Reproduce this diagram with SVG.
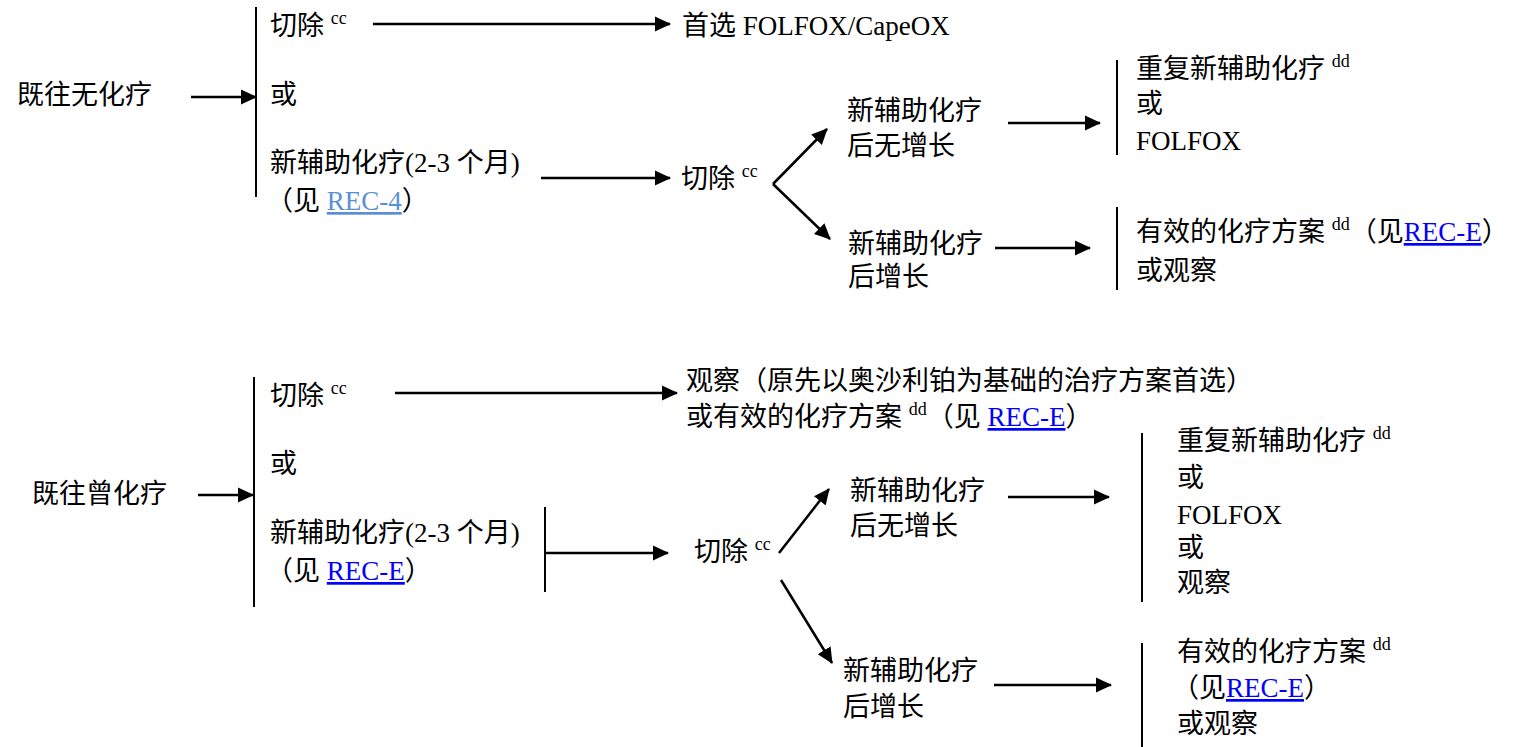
<svg xmlns="http://www.w3.org/2000/svg" width="1515" height="747" viewBox="0 0 1515 747">
<style>
text{font-family:"Liberation Serif","Noto Sans CJK SC",serif;font-size:27px;fill:#000}
.sup{font-size:18px}
.l4{fill:#5a8fd6;text-decoration:underline}
.le{fill:#0000ff;text-decoration:underline}
.c line{stroke:#000;stroke-width:2.5}
.bar{stroke:#000;stroke-width:2}
</style>
<defs>
<marker id="ah" markerWidth="16" markerHeight="16" refX="15" refY="8" orient="auto" markerUnits="userSpaceOnUse"><path d="M0,0.5 L16,8 L0,15.5 z" fill="#000"/></marker>
</defs>
<rect width="1515" height="747" fill="#fff"/>

<g id="connectors" class="c">
<line x1="191" y1="97" x2="256" y2="97" marker-end="url(#ah)"/>
<line x1="373" y1="24" x2="670" y2="24" marker-end="url(#ah)"/>
<line x1="541" y1="178" x2="670" y2="178" marker-end="url(#ah)"/>
<line x1="773" y1="184" x2="827" y2="129" marker-end="url(#ah)"/>
<line x1="773" y1="184" x2="830" y2="239" marker-end="url(#ah)"/>
<line x1="1008" y1="123" x2="1100" y2="123" marker-end="url(#ah)"/>
<line x1="995" y1="248" x2="1090" y2="248" marker-end="url(#ah)"/>
<line x1="198" y1="495" x2="253" y2="495" marker-end="url(#ah)"/>
<line x1="395" y1="393" x2="677" y2="393" marker-end="url(#ah)"/>
<line x1="545" y1="553" x2="668" y2="553" marker-end="url(#ah)"/>
<line x1="779" y1="553" x2="829" y2="489" marker-end="url(#ah)"/>
<line x1="781" y1="580" x2="832" y2="663" marker-end="url(#ah)"/>
<line x1="1008" y1="497" x2="1109" y2="497" marker-end="url(#ah)"/>
<line x1="994" y1="685" x2="1111" y2="685" marker-end="url(#ah)"/>
</g>

<g id="n-top-start"><text x="17" y="104">既往无化疗</text></g>
<g id="n-top-options">
<line class="bar" x1="256" y1="7" x2="256" y2="197"/>
<text x="270" y="35">切除 <tspan class="sup" dy="-11">cc</tspan></text>
<text x="270" y="104">或</text>
<text x="270" y="172">新辅助化疗(2-3 个月)</text>
<text x="266" y="210">（见 <tspan class="l4">REC-4</tspan>）</text>
</g>
<g id="n-top-pref"><text x="682" y="35">首选 FOLFOX/CapeOX</text></g>
<g id="n-top-resect"><text x="681" y="188">切除 <tspan class="sup" dy="-11">cc</tspan></text></g>
<g id="n-top-nogrowth"><text x="847" y="120">新辅助化疗</text><text x="847" y="155">后无增长</text></g>
<g id="n-top-growth"><text x="848" y="253">新辅助化疗</text><text x="848" y="286">后增长</text></g>
<g id="n-top-repeat">
<line class="bar" x1="1117" y1="60" x2="1117" y2="155"/>
<text x="1136" y="78">重复新辅助化疗 <tspan class="sup" dy="-11">dd</tspan></text>
<text x="1136" y="113">或</text>
<text x="1136" y="150">FOLFOX</text>
</g>
<g id="n-top-effective">
<line class="bar" x1="1117" y1="207" x2="1117" y2="290"/>
<text x="1136" y="241">有效的化疗方案 <tspan class="sup" dy="-11">dd</tspan><tspan dy="11">（见</tspan><tspan class="le">REC-E</tspan>）</text>
<text x="1136" y="280">或观察</text>
</g>

<g id="n-bot-start"><text x="32" y="503">既往曾化疗</text></g>
<g id="n-bot-options">
<line class="bar" x1="254" y1="377" x2="254" y2="607"/>
<text x="270" y="405">切除 <tspan class="sup" dy="-11">cc</tspan></text>
<text x="270" y="473">或</text>
<text x="270" y="542">新辅助化疗(2-3 个月)</text>
<text x="266" y="580">（见 <tspan class="le">REC-E</tspan>）</text>
<line class="bar" x1="545" y1="507" x2="545" y2="592"/>
</g>
<g id="n-bot-observe">
<text x="686" y="390">观察（原先以奥沙利铂为基础的治疗方案首选）</text>
<text x="686" y="426">或有效的化疗方案 <tspan class="sup" dy="-11">dd</tspan><tspan dy="11">（见 </tspan><tspan class="le">REC-E</tspan>）</text>
</g>
<g id="n-bot-resect"><text x="694" y="561">切除 <tspan class="sup" dy="-11">cc</tspan></text></g>
<g id="n-bot-nogrowth"><text x="850" y="500">新辅助化疗</text><text x="850" y="535">后无增长</text></g>
<g id="n-bot-growth"><text x="843" y="680">新辅助化疗</text><text x="843" y="716">后增长</text></g>
<g id="n-bot-repeat">
<line class="bar" x1="1142" y1="433" x2="1142" y2="602"/>
<text x="1177" y="450">重复新辅助化疗 <tspan class="sup" dy="-11">dd</tspan></text>
<text x="1177" y="487">或</text>
<text x="1177" y="524">FOLFOX</text>
<text x="1177" y="557">或</text>
<text x="1177" y="592">观察</text>
</g>
<g id="n-bot-effective">
<line class="bar" x1="1142" y1="643" x2="1142" y2="747"/>
<text x="1177" y="661">有效的化疗方案 <tspan class="sup" dy="-11">dd</tspan></text>
<text x="1172" y="697">（见<tspan class="le">REC-E</tspan>）</text>
<text x="1177" y="733">或观察</text>
</g>
</svg>
